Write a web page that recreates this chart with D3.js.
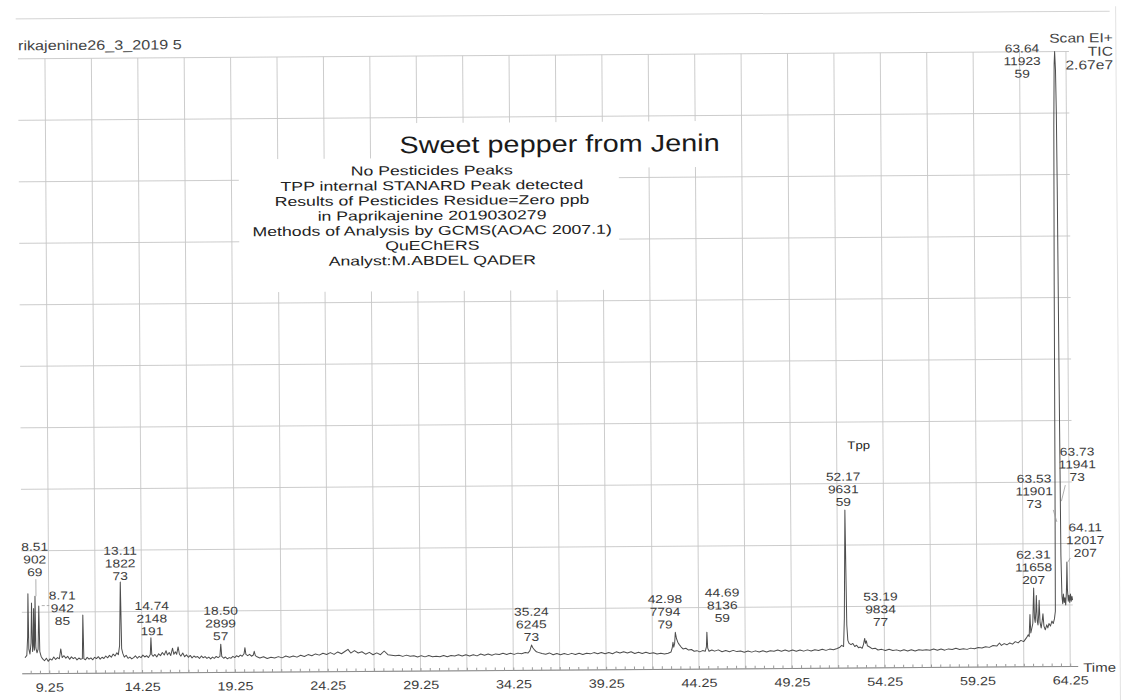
<!DOCTYPE html>
<html>
<head>
<meta charset="utf-8">
<script src="https://cdn.jsdelivr.net/npm/d3@7"></script>
<style>
  body { margin: 0; background: #fff; }
  svg { display: block; font-family: "Liberation Sans", Arial, sans-serif; }
</style>
</head>
<body>
<svg id="chart" width="1134" height="700"></svg>
<script>
// TIC trace: [retention time (min), % of full scale]
var tic = [
  [7.95,2.6],[8.05,3.0],[8.10,6.0],[8.13,13.0],[8.16,4.0],[8.22,3.2],[8.28,5.0],[8.32,11.5],[8.36,3.6],
  [8.40,4.5],[8.43,10.6],[8.46,3.8],[8.49,6.0],[8.51,12.6],[8.54,4.2],[8.60,3.4],[8.66,4.0],[8.71,11.0],
  [8.75,3.6],[8.82,2.8],[8.90,2.4],[9.00,2.1],[9.10,2.5],[9.20,2.0],[9.30,2.4],[9.40,2.2],[9.50,2.7],
  [9.60,2.3],[9.70,2.6],[9.80,2.4],[9.88,4.0],[9.95,2.6],[10.05,2.9],[10.15,2.5],[10.25,2.8],[10.35,2.3],
  [10.45,2.7],[10.55,2.4],[10.65,2.6],[10.75,2.2],[10.85,2.5],[10.95,2.3],[11.04,2.4],[11.08,9.5],[11.12,2.4],
  [11.20,2.2],[11.30,2.6],[11.40,2.3],[11.50,2.5],[11.60,2.2],[11.70,2.6],[11.80,2.4],[11.90,2.7],[12.00,2.3],
  [12.10,2.6],[12.20,2.4],[12.30,2.8],[12.40,2.5],[12.50,2.9],[12.60,2.6],[12.70,3.1],[12.80,2.8],[12.90,3.3],
  [12.98,3.0],[13.05,4.5],[13.11,14.8],[13.16,4.0],[13.22,3.2],[13.30,2.6],[13.40,2.9],[13.50,2.4],[13.60,2.6],
  [13.70,2.3],[13.80,2.5],[13.90,2.8],[14.00,2.4],[14.10,2.7],[14.20,2.5],[14.30,2.9],[14.40,2.6],[14.50,2.8],
  [14.60,2.5],[14.70,3.0],[14.74,5.7],[14.78,3.0],[14.85,2.7],[14.95,3.0],[15.05,2.6],[15.15,3.1],[15.25,2.8],
  [15.35,3.3],[15.45,2.9],[15.55,3.6],[15.62,2.9],[15.72,3.3],[15.80,2.8],[15.90,4.0],[15.97,3.0],[16.05,3.4],
  [16.12,3.0],[16.20,4.2],[16.27,3.0],[16.35,2.7],[16.45,3.2],[16.55,2.6],[16.65,2.9],[16.75,2.5],[16.85,2.8],
  [16.95,2.4],[17.05,2.7],[17.15,2.5],[17.25,2.6],[17.35,2.3],[17.45,2.7],[17.55,2.4],[17.65,2.6],[17.75,2.3],
  [17.85,2.5],[17.95,2.2],[18.05,2.5],[18.15,2.3],[18.25,2.6],[18.35,2.4],[18.45,2.6],[18.50,4.6],[18.55,2.6],
  [18.65,2.3],[18.75,2.5],[18.85,2.2],[18.95,2.4],[19.05,2.3],[19.15,2.6],[19.25,2.4],[19.35,2.7],[19.45,2.5],
  [19.55,2.8],[19.65,2.6],[19.75,3.0],[19.80,4.0],[19.85,2.9],[19.95,2.7],[20.05,2.9],[20.15,2.6],[20.25,2.8],
  [20.30,3.4],[20.36,2.7],[20.45,2.5],[20.60,2.3],[20.80,2.5],[21.00,2.2],[21.20,2.4],[21.40,2.3],[21.60,2.5],
  [21.80,2.3],[22.00,2.6],[22.20,2.4],[22.40,2.6],[22.60,2.4],[22.80,2.7],[23.00,2.5],[23.20,2.8],[23.40,2.6],
  [23.60,2.9],[23.80,2.7],[24.00,3.0],[24.20,2.8],[24.40,3.1],[24.60,2.8],[24.80,3.2],[25.00,2.9],[25.20,3.3],
  [25.35,3.6],[25.50,3.0],[25.70,3.4],[25.90,3.0],[26.10,3.2],[26.30,2.8],[26.50,3.1],[26.70,2.7],[26.90,3.0],
  [27.10,2.7],[27.30,3.3],[27.50,2.7],[27.70,2.6],[27.90,2.5],[28.10,2.6],[28.30,2.4],[28.50,2.6],[28.70,2.4],
  [28.90,2.5],[29.10,2.3],[29.30,2.5],[29.50,2.3],[29.70,2.5],[29.90,2.3],[30.10,2.4],[30.30,2.3],[30.50,2.5],
  [30.70,2.3],[30.90,2.5],[31.10,2.4],[31.30,2.6],[31.50,2.4],[31.70,2.6],[31.90,2.4],[32.10,2.6],[32.30,2.4],
  [32.50,2.7],[32.70,2.5],[32.90,2.7],[33.10,2.5],[33.30,2.7],[33.50,2.6],[33.70,2.8],[33.90,2.6],[34.10,2.8],
  [34.30,2.6],[34.50,2.8],[34.70,2.7],[34.90,2.9],[35.05,2.8],[35.15,3.2],[35.24,4.1],[35.30,3.7],[35.40,3.3],
  [35.50,3.0],[35.60,2.9],[35.80,2.7],[36.00,2.6],[36.20,2.8],[36.40,2.5],[36.60,2.7],[36.80,2.5],[37.00,2.7],
  [37.20,2.5],[37.40,2.7],[37.60,2.5],[37.80,2.7],[38.00,2.5],[38.20,2.7],[38.40,2.6],[38.60,2.8],[38.80,2.6],
  [39.00,2.8],[39.20,2.6],[39.40,2.8],[39.60,2.6],[39.80,2.9],[40.00,2.7],[40.20,2.9],[40.40,2.7],[40.60,2.9],
  [40.80,2.6],[41.00,2.8],[41.20,2.6],[41.40,2.8],[41.60,2.6],[41.80,2.7],[42.00,2.5],[42.20,2.6],[42.40,2.5],
  [42.60,2.6],[42.75,2.8],[42.82,3.5],[42.86,4.4],[42.90,3.6],[42.95,4.2],[42.99,6.0],[43.05,5.0],[43.12,4.4],
  [43.20,4.0],[43.30,3.6],[43.40,3.3],[43.55,3.4],[43.70,3.1],[43.85,3.2],[44.00,2.9],[44.15,3.0],[44.30,2.8],
  [44.45,3.0],[44.60,2.9],[44.66,3.6],[44.69,6.0],[44.73,3.4],[44.80,2.9],[44.95,3.1],[45.10,2.9],[45.30,3.1],
  [45.50,2.8],[45.70,3.0],[45.90,2.8],[46.10,3.0],[46.30,2.8],[46.50,2.9],[46.70,2.7],[46.90,2.9],[47.10,2.7],
  [47.30,2.9],[47.50,2.7],[47.70,2.9],[47.90,2.7],[48.10,2.9],[48.30,2.8],[48.50,3.0],[48.70,2.8],[48.90,3.0],
  [49.10,2.8],[49.30,3.0],[49.50,2.8],[49.70,3.0],[49.90,2.8],[50.10,3.0],[50.30,2.8],[50.50,3.0],[50.70,2.9],
  [50.90,3.1],[51.10,2.9],[51.30,3.1],[51.50,3.0],[51.70,3.2],[51.85,3.4],[51.95,3.7],[52.05,3.5],[52.10,8.0],
  [52.14,18.0],[52.17,25.7],[52.20,16.0],[52.23,7.0],[52.28,4.5],[52.35,4.0],[52.45,3.8],[52.55,4.0],[52.65,3.5],
  [52.75,3.7],[52.85,3.3],[52.95,3.4],[53.05,3.2],[53.12,3.8],[53.16,4.4],[53.19,4.8],[53.23,4.0],[53.28,4.4],
  [53.33,3.6],[53.45,3.4],[53.60,3.1],[53.75,3.2],[53.90,2.9],[54.10,3.0],[54.30,2.8],[54.50,3.0],[54.70,2.8],
  [54.90,2.9],[55.10,2.7],[55.30,2.9],[55.50,2.7],[55.70,2.9],[55.90,2.7],[56.10,2.9],[56.30,2.8],[56.50,2.9],
  [56.70,2.8],[56.90,3.0],[57.10,2.8],[57.30,3.0],[57.50,2.8],[57.70,3.0],[57.90,2.9],[58.10,3.1],[58.30,2.9],
  [58.50,3.0],[58.70,2.9],[58.90,3.1],[59.10,3.0],[59.30,3.2],[59.50,3.1],[59.70,3.3],[59.90,3.2],[60.10,3.5],
  [60.30,3.4],[60.45,3.9],[60.55,3.5],[60.70,3.8],[60.85,3.6],[61.00,3.9],[61.15,3.7],[61.30,4.1],[61.45,3.9],
  [61.60,4.3],[61.75,4.1],[61.90,4.7],[62.00,5.2],[62.05,4.9],[62.10,8.5],[62.14,5.5],[62.20,6.3],[62.25,7.0],
  [62.28,10.0],[62.31,12.8],[62.34,8.0],[62.38,7.2],[62.42,9.0],[62.45,11.6],[62.49,7.5],[62.53,6.8],[62.57,8.5],
  [62.60,10.8],[62.64,7.2],[62.70,6.3],[62.76,7.5],[62.80,8.6],[62.85,6.6],[62.92,6.0],[63.00,6.8],[63.06,6.3],
  [63.12,7.0],[63.20,6.6],[63.28,7.4],[63.35,7.0],[63.42,7.8],[63.47,9.0],[63.50,30.0],[63.53,62.0],[63.57,88.0],
  [63.61,98.0],[63.64,100.0],[63.68,97.0],[63.71,90.0],[63.73,78.0],[63.76,45.0],[63.79,18.0],[63.83,11.5],
  [63.87,10.2],[63.91,11.8],[63.95,10.4],[63.99,11.2],[64.03,10.0],[64.07,12.0],[64.09,14.0],[64.11,17.0],
  [64.13,12.5],[64.17,10.6],[64.21,11.6],[64.25,10.4],[64.29,11.8],[64.33,10.6],[64.37,11.4],[64.40,10.8]
];

// peak annotations: retention time / scan / base mass
var peakTimes  = ["8.51", "8.71", "13.11", "14.74", "18.50", "35.24", "42.98", "44.69",
                  "52.17", "53.19", "62.31", "63.53", "63.64", "63.73", "64.11"];
var peakScans  = ["902", "942", "1822", "2148", "2899", "6245", "7794", "8136",
                  "9631", "9834", "11658", "11901", "11923", "11941", "12017"];
var peakMasses = ["69", "85", "73", "191", "57", "73", "79", "59",
                  "59", "77", "207", "73", "59", "73", "207"];

var xTicks = [9.25, 14.25, 19.25, 24.25, 29.25, 34.25, 39.25, 44.25, 49.25, 54.25, 59.25, 64.25];

var titleText = "Sweet pepper from Jenin";
var noteLines = [
  "No Pesticides Peaks",
  "TPP internal STANARD Peak detected",
  "Results of Pesticides Residue=Zero ppb",
  "in Paprikajenine 2019030279",
  "Methods of Analysis by GCMS(AOAC 2007.1)",
  "QuEChERS",
  "Analyst:M.ABDEL QADER"
];
// the scan cuts the first letters of the file name
var headerText = "rikajenine26_3_2019 5";
var scanInfo = ["Scan EI+", "TIC", "2.67e7"];

// label nudges (px) where the printer moved a label off its peak: [dx, dy, pointer]
var labelNudge = {
  "8.51": [0, -16, "down"], "8.71": [23.5, 23, "dash"], "13.11": [0, 2], "14.74": [1, 1.4],
  "42.98": [-10, 0], "44.69": [15.5, -6], "52.17": [-1.5, 0], "53.19": [16, -8.3],
  "63.53": [-21.5, 226.6, "right"], "63.64": [-32.6, 30], "63.73": [18, 298.3, "left"],
  "64.11": [18.5, -1, "left2"]
};

var STRETCH = 1.2;   // the scanned print is wider than it is tall
var LINE_H = 12.7;

var x = d3.scaleLinear().domain([9.25, 64.25]).range([47, 1068]);
var y = d3.scaleLinear().domain([0, 100]).range([670, 55]);

var svg = d3.select("#chart");
svg.append("rect").attr("width", 1134).attr("height", 700).attr("fill", "#fff");

// the whole sheet sits slightly skewed on the scanner
var page = svg.append("g").attr("transform", "rotate(-0.4,567,350)");

function stext(parent, tx, ty, str, size, anchor, sx) {
  return parent.append("text")
    .attr("transform", "translate(" + tx + "," + ty + ") scale(" + (sx || STRETCH) + ",1)")
    .attr("text-anchor", anchor || "middle")
    .attr("font-size", size)
    .attr("fill", "#3c3c3c")
    .text(str);
}

// page rules
page.append("line").attr("x1", -10).attr("x2", 1112).attr("y1", 15).attr("y2", 15)
    .attr("stroke", "#d4d4d4").attr("stroke-width", 1);
page.append("line").attr("x1", 1118).attr("x2", 1118).attr("y1", 10).attr("y2", 710)
    .attr("stroke", "#e2e2e2").attr("stroke-width", 1);

// grid
var grid = page.append("g").attr("stroke", "#c6c6c6").attr("stroke-width", 0.9);
grid.selectAll("line.h")
    .data(d3.range(0, 101, 10))
  .enter().append("line")
    .attr("class", "h")
    .attr("x1", 20).attr("x2", 1071)
    .attr("y1", function(d) { return y(d); })
    .attr("y2", function(d) { return y(d); });
grid.selectAll("line.v")
    .data(d3.range(9.25, 64.3, 2.5))
  .enter().append("line")
    .attr("class", "v")
    .attr("x1", function(d) { return x(d); })
    .attr("x2", function(d) { return x(d); })
    .attr("y1", y(100)).attr("y2", y(0));

// axis
page.append("line").attr("x1", 20).attr("x2", 1076).attr("y1", y(0)).attr("y2", y(0))
    .attr("stroke", "#8c8c8c").attr("stroke-width", 1);

var minor = page.append("g")
    .attr("transform", "translate(0," + y(0) + ")")
    .call(d3.axisBottom(x).tickValues(d3.range(8.25, 64.6, 0.5)).tickSize(-3).tickFormat(""));
minor.select(".domain").remove();
minor.selectAll("line").attr("stroke", "#9a9a9a");

var axis = page.append("g")
    .attr("transform", "translate(0," + y(0) + ")")
    .call(d3.axisBottom(x).tickValues(xTicks).tickSize(0).tickPadding(9.5)
          .tickFormat(d3.format(".2f")));
axis.attr("font-size", 12).attr("font-family", null);
axis.select(".domain").remove();
axis.selectAll("text").attr("fill", "#3c3c3c").attr("transform", "scale(" + STRETCH + ",1)");

stext(page, 1081, 675.5, "Time", 12.5, "start");

// white boxes of the pasted notes
page.append("rect").attr("x", 385).attr("y", 122).attr("width", 350).attr("height", 46).attr("fill", "#fff");
page.append("rect").attr("x", 240).attr("y", 157).attr("width", 380).attr("height", 133).attr("fill", "#fff");

// trace
var line = d3.line()
    .x(function(d) { return x(d[0]); })
    .y(function(d) { return y(d[1]); });
page.append("path")
    .datum(tic)
    .attr("d", line)
    .attr("fill", "none")
    .attr("stroke", "#4d4d4d")
    .attr("stroke-width", 1)
    .attr("stroke-linejoin", "round");

// peak labels
var labels = page.append("g");
peakTimes.forEach(function(rt, i) {
  var t = +rt;
  var top = d3.least(tic, function(d) { return Math.abs(d[0] - t); })[1];
  var nudge = labelNudge[rt] || [0, 0];
  var lx = x(t) + nudge[0];
  var b3 = y(top) - 4 + nudge[1];
  stext(labels, lx, b3 - 2 * LINE_H, rt, 11.5);
  stext(labels, lx, b3 - LINE_H, peakScans[i], 11.5);
  stext(labels, lx, b3, peakMasses[i], 11.5);

  var p = nudge[2];
  var ptr = null;
  if (p == "down") ptr = [lx + 1, b3 + 3, x(t) + 1, y(top)];
  if (p == "dash") ptr = [x(t) + 3, b3 - 2 * LINE_H + 6, lx - 13, b3 - 2 * LINE_H + 6];
  if (p == "right") ptr = [lx + 19, b3 + 2, x(t) + 1, b3 + 14];
  if (p == "left") ptr = [lx - 12, b3 + 4, x(t) + 2, b3 + 20];
  if (p == "left2") ptr = [lx - 15, b3 + 1, x(t) + 1, y(top)];
  if (ptr) {
    labels.append("line")
      .attr("x1", ptr[0]).attr("y1", ptr[1]).attr("x2", ptr[2]).attr("y2", ptr[3])
      .attr("stroke", "#9c9c9c").attr("stroke-width", 0.8)
      .attr("stroke-dasharray", p == "dash" ? "3,2" : null);
  }
});

stext(page, 858, 451, "Tpp", 11, "middle").attr("fill", "#222");

// header and scan info
stext(page, 184, 46.5, headerText, 13.5, "end").attr("fill", "#444");
scanInfo.forEach(function(s, i) {
  stext(page, 1115, 46 + i * 13.5, s, 13, "end").attr("fill", "#444");
});

// title and notes
stext(page, 561, 152, titleText, 24).attr("fill", "#1a1a1a");
noteLines.forEach(function(s, i) {
  stext(page, 433, 174 + i * 15, s, 13, "middle", 1.36).attr("fill", "#222");
});

// left edge of the scan is cut off
page.append("rect").attr("x", -60).attr("y", -40).attr("width", 78).attr("height", 800).attr("fill", "#fff");
</script>
</body>
</html>
